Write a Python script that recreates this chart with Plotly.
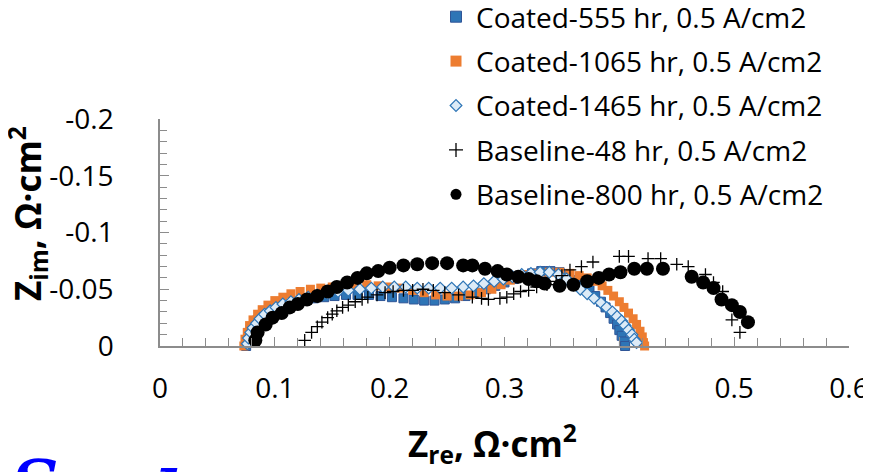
import plotly.graph_objects as go

# ---------------- data ----------------
c555_x = [0.075, 0.076, 0.077, 0.079, 0.082, 0.085, 0.089, 0.094, 0.099, 0.105, 0.111, 0.118,
          0.126, 0.134, 0.143, 0.152, 0.162, 0.172, 0.182, 0.192, 0.202, 0.212, 0.221, 0.230,
          0.239, 0.248, 0.257, 0.266, 0.275, 0.284, 0.292, 0.300, 0.308, 0.316, 0.324, 0.332,
          0.340, 0.348, 0.355, 0.362, 0.368, 0.374, 0.379, 0.384, 0.388, 0.392, 0.395, 0.398,
          0.400, 0.402, 0.404, 0.405]
c555_y = [0.000, -0.005, -0.010, -0.015, -0.019, -0.023, -0.027, -0.030, -0.033, -0.035, -0.037, -0.039,
          -0.041, -0.042, -0.043, -0.044, -0.045, -0.045, -0.045, -0.044, -0.043, -0.042, -0.041, -0.040,
          -0.040, -0.041, -0.042, -0.044, -0.047, -0.050, -0.053, -0.056, -0.059, -0.062, -0.064, -0.066,
          -0.066, -0.065, -0.062, -0.058, -0.054, -0.049, -0.044, -0.039, -0.034, -0.029, -0.024, -0.019,
          -0.014, -0.009, -0.004, 0.000]

c1065_x = [0.073, 0.074, 0.076, 0.078, 0.081, 0.085, 0.089, 0.094, 0.100, 0.107, 0.114, 0.122,
           0.131, 0.140, 0.150, 0.160, 0.170, 0.180, 0.190, 0.200, 0.210, 0.220, 0.230, 0.240,
           0.250, 0.260, 0.270, 0.280, 0.289, 0.297, 0.305, 0.313, 0.321, 0.330, 0.339, 0.348,
           0.357, 0.365, 0.372, 0.379, 0.385, 0.390, 0.395, 0.400, 0.404, 0.408, 0.412, 0.415,
           0.418, 0.420, 0.421, 0.422]
c1065_y = [0.000, -0.006, -0.012, -0.018, -0.023, -0.028, -0.032, -0.036, -0.040, -0.043, -0.046, -0.048,
           -0.050, -0.051, -0.052, -0.053, -0.053, -0.054, -0.053, -0.052, -0.051, -0.049, -0.047, -0.045,
           -0.044, -0.044, -0.045, -0.047, -0.050, -0.054, -0.058, -0.061, -0.063, -0.064, -0.065, -0.065,
           -0.064, -0.062, -0.060, -0.057, -0.053, -0.049, -0.044, -0.039, -0.034, -0.029, -0.024, -0.019,
           -0.013, -0.008, -0.003, 0.000]

c1465_x = [0.076, 0.077, 0.079, 0.081, 0.084, 0.087, 0.091, 0.096, 0.101, 0.107, 0.114, 0.121,
           0.129, 0.137, 0.146, 0.155, 0.164, 0.174, 0.184, 0.194, 0.204, 0.214, 0.224, 0.234,
           0.244, 0.254, 0.264, 0.273, 0.282, 0.291, 0.299, 0.307, 0.315, 0.323, 0.331, 0.339,
           0.347, 0.354, 0.360, 0.366, 0.372, 0.378, 0.384, 0.389, 0.394, 0.398, 0.402, 0.405,
           0.408, 0.411, 0.413, 0.415]
c1465_y = [-0.002, -0.007, -0.012, -0.016, -0.020, -0.024, -0.028, -0.031, -0.034, -0.037, -0.039, -0.041,
           -0.043, -0.045, -0.046, -0.048, -0.049, -0.050, -0.051, -0.052, -0.052, -0.052, -0.051, -0.051,
           -0.051, -0.051, -0.052, -0.053, -0.055, -0.057, -0.059, -0.061, -0.063, -0.064, -0.065, -0.065,
           -0.063, -0.059, -0.054, -0.050, -0.046, -0.042, -0.038, -0.034, -0.030, -0.026, -0.022, -0.018,
           -0.014, -0.010, -0.006, -0.003]

b48_x = [0.125, 0.126, 0.132, 0.137, 0.141, 0.146, 0.150, 0.154, 0.159, 0.164, 0.170, 0.176,
         0.181, 0.189, 0.196, 0.203, 0.212, 0.220, 0.229, 0.238, 0.248, 0.260, 0.272, 0.280,
         0.286, 0.296, 0.302, 0.308, 0.314, 0.321, 0.328, 0.337, 0.345, 0.350, 0.357, 0.367,
         0.377, 0.400, 0.408, 0.425, 0.436, 0.450, 0.460, 0.475, 0.482, 0.490, 0.498, 0.505]
b48_y = [0.001, -0.005, -0.012, -0.017, -0.021, -0.025, -0.028, -0.031, -0.034, -0.036, -0.039, -0.041,
         -0.043, -0.045, -0.047, -0.048, -0.049, -0.049, -0.050, -0.049, -0.047, -0.045, -0.043, -0.042,
         -0.041, -0.042, -0.043, -0.046, -0.048, -0.049, -0.052, -0.054, -0.057, -0.062, -0.067, -0.070,
         -0.074, -0.079, -0.079, -0.077, -0.077, -0.072, -0.070, -0.063, -0.056, -0.048, -0.023, -0.012]

b800_x = [0.083, 0.085, 0.092, 0.098, 0.106, 0.113, 0.120, 0.128, 0.137, 0.146, 0.154, 0.163,
          0.172, 0.180, 0.190, 0.200, 0.212, 0.224, 0.237, 0.250, 0.264, 0.272, 0.283, 0.294,
          0.302, 0.312, 0.321, 0.328, 0.335, 0.348, 0.360, 0.372, 0.382, 0.391, 0.401, 0.413,
          0.424, 0.438, 0.463, 0.473, 0.482, 0.489, 0.498, 0.505, 0.512]
b800_y = [-0.005, -0.012, -0.019, -0.025, -0.029, -0.034, -0.037, -0.041, -0.044, -0.048, -0.052, -0.056,
          -0.060, -0.064, -0.066, -0.069, -0.071, -0.072, -0.073, -0.073, -0.071, -0.071, -0.068, -0.066,
          -0.063, -0.061, -0.059, -0.057, -0.055, -0.053, -0.054, -0.057, -0.060, -0.063, -0.065, -0.068,
          -0.068, -0.068, -0.061, -0.056, -0.051, -0.041, -0.036, -0.030, -0.021]

series_names = ["Coated-555 hr, 0.5 A/cm2", "Coated-1065 hr, 0.5 A/cm2", "Coated-1465 hr, 0.5 A/cm2",
                "Baseline-48 hr, 0.5 A/cm2", "Baseline-800 hr, 0.5 A/cm2"]

x_tickvals = [0, 0.1, 0.2, 0.3, 0.4, 0.5, 0.6]
x_ticktext = ["0", "0.1", "0.2", "0.3", "0.4", "0.5", "0.6"]
y_tickvals = [0, -0.05, -0.1, -0.15, -0.2]
y_ticktext = ["0", "-0.05", "-0.1", "-0.15", "-0.2"]

FONT = "Open Sans"
FS = 28
FS_TITLE = 35

styles = [
    dict(symbol="square", size=9, color="#2E75B6", line=dict(color="#2F5597", width=1)),
    dict(symbol="square", size=9, color="#ED7D31", line=dict(color="#ED7D31", width=0)),
    dict(symbol="diamond", size=9, color="#DDEBF7", line=dict(color="#2E75B6", width=1.2)),
    dict(symbol="cross-thin", size=9, color="black", line=dict(color="black", width=1.3)),
    dict(symbol="circle", size=14, color="black", line=dict(color="black", width=0)),
]
legend_styles = [
    dict(symbol="square", size=11, color="#2E75B6", line=dict(color="#2F5597", width=1)),
    dict(symbol="square", size=11, color="#ED7D31", line=dict(color="#ED7D31", width=0)),
    dict(symbol="diamond", size=9, color="#DDEBF7", line=dict(color="#2E75B6", width=1.2)),
    dict(symbol="cross-thin", size=10, color="black", line=dict(color="black", width=1.3)),
    dict(symbol="circle", size=11, color="black", line=dict(color="black", width=0)),
]
data = [(c555_x, c555_y), (c1065_x, c1065_y), (c1465_x, c1465_y), (b48_x, b48_y), (b800_x, b800_y)]

fig = go.Figure()
for (xs, ys), st in zip(data, styles):
    fig.add_trace(go.Scatter(x=xs, y=ys, mode="markers", marker=st, showlegend=False,
                             cliponaxis=False))
for i, (name, st) in enumerate(zip(series_names, legend_styles)):
    fig.add_trace(go.Scatter(x=[None], y=[None], mode="markers", marker=st, name=name,
                             legendgroup=f"g{i}", showlegend=True))

axis_common = dict(showline=True, linecolor="#8C8C8C", linewidth=1.5, showgrid=False, zeroline=False,
                   ticks="inside", ticklen=9, tickcolor="#8C8C8C", tickwidth=1.2, automargin=False,
                   tickfont=dict(family=FONT, size=FS, color="black"))

# page body has an 8px margin: work in figure coordinates = screen - OFF
OFF = 8
W, H = 871 - OFF, 472 - OFF
L, R, T, B = 160 - OFF, 849 - OFF, 119 - OFF, 346 - OFF
PW, PH = R - L, B - T


def px(xs):
    return (xs - OFF - L) / PW


def py(ys):
    return (B - (ys - OFF)) / PH


fig.update_layout(
    width=W, height=H,
    margin=dict(l=L, r=W - R, t=T, b=H - B, autoexpand=False),
    paper_bgcolor="white", plot_bgcolor="white",
    font=dict(family=FONT, size=FS, color="black"),
    xaxis=dict(range=[0, 0.6], tickvals=x_tickvals, ticktext=x_ticktext,
               minor=dict(dtick=0.02, tick0=0, ticks="inside", ticklen=8, tickcolor="#8C8C8C", tickwidth=1.2),
               ticklabelstandoff=17, **axis_common),
    yaxis=dict(range=[0, -0.2], tickvals=y_tickvals, ticktext=y_ticktext,
               minor=dict(dtick=0.01, tick0=0, ticks="inside", ticklen=7, tickcolor="#8C8C8C", tickwidth=1.2),
               ticklabelstandoff=39, **axis_common),
    legend=dict(x=px(436), y=py(-8), xanchor="left", yanchor="top",
                bgcolor="rgba(0,0,0,0)",
                font=dict(family=FONT, size=FS, color="black"), tracegroupgap=5,
                itemwidth=30),
    annotations=[
        dict(text="<b>Z<sub>re</sub>, Ω·cm<sup>2</sup></b>", xref="paper", yref="paper",
             x=px(492), y=py(443), xanchor="center", yanchor="middle",
             showarrow=False, font=dict(family=FONT, size=FS_TITLE, color="black")),
        dict(text="<b>Z<sub>im</sub>, Ω·cm<sup>2</sup></b>", xref="paper", yref="paper",
             x=px(27), y=py(214), xanchor="center", yanchor="middle",
             textangle=-90, showarrow=False, font=dict(family=FONT, size=FS_TITLE, color="black")),
        dict(text="<b><i>S</i></b>", xref="paper", yref="paper",
             x=px(35), y=py(443), xanchor="center", yanchor="top",
             showarrow=False, font=dict(family="DejaVu Serif", size=66, color="#0000FF")),
        dict(text="<b><i>l</i></b>", xref="paper", yref="paper",
             x=px(166), y=py(454), xanchor="center", yanchor="top",
             showarrow=False, font=dict(family="DejaVu Serif", size=66, color="#0000FF")),
    ],
)

fig.write_html("out.html")
